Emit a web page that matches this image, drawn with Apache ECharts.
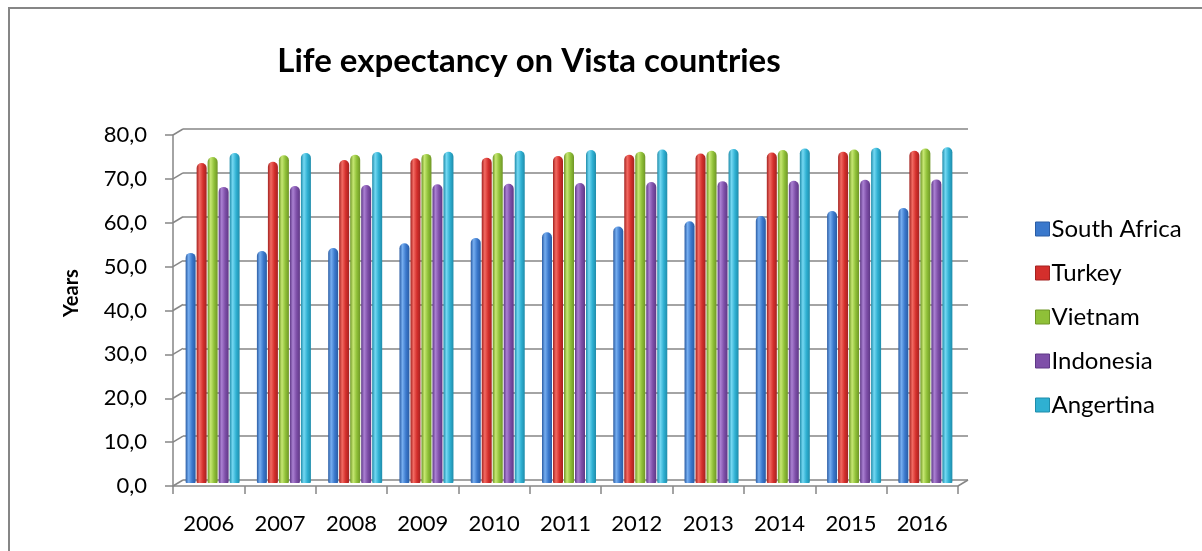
<!DOCTYPE html>
<html>
<head>
<meta charset="utf-8">
<script src="https://cdn.jsdelivr.net/npm/echarts@6/dist/echarts.min.js"></script>
<style>
html,body{margin:0;padding:0;background:#fff;}
#chart{width:1202px;height:551px;}
</style>
</head>
<body>
<div id="chart"></div>
<script>
const years = ['2006','2007','2008','2009','2010','2011','2012','2013','2014','2015','2016'];
const seriesNames = ['South Africa','Turkey','Vietnam','Indonesia','Angertina'];
const southAfrica = [52.3, 52.7, 53.4, 54.5, 55.7, 57.0, 58.3, 59.5, 60.7, 61.8, 62.5];
const turkey      = [72.7, 73.0, 73.4, 73.8, 73.9, 74.3, 74.6, 74.9, 75.1, 75.3, 75.5];
const vietnam     = [74.1, 74.5, 74.6, 74.8, 75.0, 75.2, 75.3, 75.5, 75.7, 75.8, 76.0];
const indonesia   = [67.3, 67.5, 67.7, 67.9, 68.0, 68.2, 68.4, 68.6, 68.7, 68.9, 69.0];
const argentina   = [75.0, 75.0, 75.2, 75.3, 75.5, 75.7, 75.8, 75.9, 76.0, 76.2, 76.3];
const yTicks = [0, 10, 20, 30, 40, 50, 60, 70, 80];

const allValues = [southAfrica, turkey, vietnam, indonesia, argentina];
const baseColors = ['#3A78CC', '#D42F2C', '#8FC038', '#7E4FA8', '#2FB0D2'];
const lightColors = ['#76AEF0', '#F26A62', '#C6E772', '#AA80D2', '#74D8F2'];
const darkColors = ['#2A5CA4', '#A42220', '#6F9626', '#5E3886', '#1F8CAA'];

const FONT = 'Lato';
const GRID_COLOR = '#868686';

function cyl(i) {
  return new echarts.graphic.LinearGradient(0, 0, 1, 0, [
    {offset: 0, color: darkColors[i]},
    {offset: 0.3, color: lightColors[i]},
    {offset: 0.65, color: baseColors[i]},
    {offset: 1, color: darkColors[i]}
  ]);
}

const chart = echarts.init(document.getElementById('chart'), null, {renderer: 'canvas'});

const barSeries = seriesNames.map((name, i) => ({
  name: name,
  type: 'bar',
  xAxisIndex: 2,
  yAxisIndex: 2,
  data: allValues[i],
  barWidth: 10,
  barGap: '10%',
  z: 5,
  itemStyle: {color: cyl(i), borderRadius: [5, 5, 1, 1]},
  emphasis: {disabled: true}
}));

const option = {
  animation: false,
  backgroundColor: '#ffffff',
  textStyle: {fontFamily: FONT},
  title: {
    text: 'Life expectancy on Vista countries',
    left: 524,
    textAlign: 'center',
    top: 40,
    textStyle: {fontFamily: FONT, fontWeight: 'bold', fontSize: 33, color: '#000'}
  },
  legend: {
    orient: 'vertical',
    left: 1030,
    top: 212,
    itemWidth: 14,
    itemHeight: 14,
    itemGap: 20,
    icon: 'rect',
    data: seriesNames.map((n, i) => ({name: n, itemStyle: {color: baseColors[i], borderColor: darkColors[i], borderWidth: 1}})),
    textStyle: {fontFamily: FONT, fontSize: 24, color: '#000', padding: [0, 0, 0, -3]}
  },
  graphic: [{
    type: 'rect',
    shape: {x: 9, y: 8, width: 1400, height: 800},
    style: {fill: null, stroke: '#868686', lineWidth: 2},
    silent: true
  }, {
    type: 'text',
    x: 72,
    y: 293,
    rotation: Math.PI / 2,
    silent: true,
    style: {text: 'Years', fontFamily: FONT, fontWeight: 'bold', fontSize: 20, fill: '#000', align: 'center', verticalAlign: 'middle'}
  }],
  grid: [
    {left: 173, right: 244, top: 135, bottom: 65},
    {left: 183, right: 234, top: 129, bottom: 71},
    {left: 177, right: 241, top: 131, bottom: 68}
  ],
  xAxis: [
    {
      type: 'category', gridIndex: 0, data: years,
      axisLine: {show: true, lineStyle: {color: GRID_COLOR, width: 1.5}},
      axisTick: {show: true, length: 8, alignWithLabel: false, lineStyle: {color: GRID_COLOR, width: 1.5}},
      axisLabel: {fontFamily: FONT, fontSize: 22, color: '#000', margin: 27},
      splitLine: {show: false}
    },
    {type: 'category', gridIndex: 1, data: years, show: false},
    {type: 'category', gridIndex: 2, data: years, show: false}
  ],
  yAxis: [
    {
      type: 'value', gridIndex: 0, min: 0, max: 80, interval: 10,
      axisLine: {show: true, lineStyle: {color: GRID_COLOR, width: 1.5}},
      axisTick: {show: true, length: 8, lineStyle: {color: GRID_COLOR, width: 1.5}},
      axisLabel: {fontFamily: FONT, fontSize: 22, color: '#000', margin: 26,
        formatter: v => v.toFixed(1).replace('.', ',')},
      splitLine: {show: false}
    },
    {
      type: 'value', gridIndex: 1, min: 0, max: 80, interval: 10,
      axisLine: {show: false}, axisTick: {show: false}, axisLabel: {show: false},
      splitLine: {show: true, lineStyle: {color: GRID_COLOR, width: 1.5}}
    },
    {type: 'value', gridIndex: 2, min: 0, max: 80, interval: 10, show: false, splitLine: {show: false}}
  ],
  series: [
    {
      type: 'custom',
      xAxisIndex: 1,
      yAxisIndex: 1,
      data: yTicks.map(v => [0, v]),
      silent: true,
      z: 1,
      renderItem: function (params, api) {
        const cs = params.coordSys;
        const y = api.coord([0, api.value(1)])[1];
        const children = [{
          type: 'line',
          shape: {x1: cs.x - 10, y1: y + 6, x2: cs.x, y2: y},
          style: {stroke: GRID_COLOR, lineWidth: 1.5}
        }];
        if (api.value(1) === 0) {
          children.push({
            type: 'line',
            shape: {x1: cs.x + cs.width - 10, y1: y + 6, x2: cs.x + cs.width, y2: y},
            style: {stroke: GRID_COLOR, lineWidth: 1.5}
          });
        }
        return {type: 'group', children: children};
      }
    }
  ].concat(barSeries)
};

chart.setOption(option);
</script>
</body>
</html>
